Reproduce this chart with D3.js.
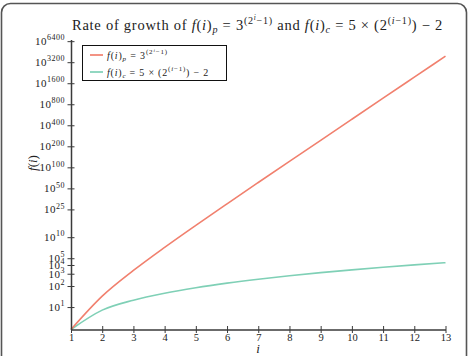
<!DOCTYPE html>
<html><head><meta charset="utf-8">
<script src="https://cdn.jsdelivr.net/npm/d3@7"></script>
<style>
body{margin:0;background:#fff}
svg{display:block}
text{font-family:"Liberation Serif","DejaVu Serif",serif;fill:#222}
</style>
</head><body>
<svg id="chart" width="469" height="356"></svg>
<script>
// ---- data ----
const iValues = [1, 2, 3, 4, 5, 6, 7, 8, 9, 10, 11, 12, 13];
// log10 of f(i)_p = 3^(2^i - 1)  (the values themselves overflow a double)
const fpLog10 = [0.4771, 1.4314, 3.3399, 7.1568, 14.7906, 30.0582, 60.5934,
                 121.664, 243.804, 488.084, 976.645, 1953.77, 3908.01];
// f(i)_c = 5 * 2^(i-1) - 2
const fcValues = [3, 8, 18, 38, 78, 158, 318, 638, 1278, 2558, 5118, 10238, 20478];
const yTickExponents = [1, 2, 3, 4, 5, 10, 25, 50, 100, 200, 400, 800, 1600, 3200, 6400];
const xTickLabels = ["1","2","3","4","5","6","7","8","9","10","11","12","13"];
const seriesColors = ["#f1806e", "#7fd0b6"];

// ---- layout ----
const svg = d3.select("#chart");
const X0 = 71, X1 = 445.5, Y0 = 329.5, Y1 = 39.5;
const axisColor = "#3a3a3a";

// frame
svg.append("rect").attr("x", 1.5).attr("y", 3.5).attr("width", 465).attr("height", 372)
  .attr("rx", 9).attr("fill", "none").attr("stroke", "#555").attr("stroke-width", 1.6);

const x = d3.scaleLinear().domain([1, 13]).range([X0, X1]);
// y: log scale on the exponent log10(f)  => log-log axis
const y = d3.scaleLog().domain([Math.log10(3), Math.pow(10, 3.83)]).range([Y0, Y1]);

// rich text helper
function rich(sel, segs, F) {
  const shift = {0: 0, 1: 0.42 * F, 2: 0.68 * F, "-1": -0.22 * F};
  const size = {0: F, 1: 0.7 * F, 2: 0.5 * F, "-1": 0.7 * F};
  let cur = 0, n = 0;
  segs.forEach(([t, lvl, it]) => {
    const tgt = shift[lvl];
    sel.append("tspan").attr("dy", (cur - tgt).toFixed(2))
      .attr("font-size", size[lvl])
      .attr("font-style", it ? "italic" : "normal")
      .text(t);
    cur = tgt; n += t.length;
  });
  return n;
}
// stretch a text to a target width with letter spacing
function fit(sel, n, target) {
  const w = sel.node().getComputedTextLength();
  const ls = (target - w) / n;
  sel.attr("letter-spacing", ls.toFixed(3));
}

// curves
const fpData = iValues.map((v, k) => [v, fpLog10[k]]);
const fcData = iValues.map((v, k) => [v, Math.log10(fcValues[k])]);
const line = d3.line().x(d => x(d[0])).y(d => y(d[1])).curve(d3.curveMonotoneX);
svg.append("path").datum(fcData).attr("d", line).attr("fill", "none")
  .attr("stroke", seriesColors[1]).attr("stroke-width", 1.6);
svg.append("path").datum(fpData).attr("d", line).attr("fill", "none")
  .attr("stroke", seriesColors[0]).attr("stroke-width", 1.6);

// y axis
const gy = svg.append("g").attr("transform", `translate(${X0},0)`)
  .call(d3.axisLeft(y).tickValues(yTickExponents).tickFormat(() => "").tickSizeOuter(0));
gy.select(".domain").attr("stroke", axisColor).attr("stroke-width", 1.5);
gy.selectAll(".tick line").attr("x1", -3.5).attr("x2", 3.5).attr("stroke", axisColor).attr("stroke-width", 1);
gy.selectAll(".tick text").remove();
gy.selectAll(".tick").each(function(d) {
  const t = d3.select(this).append("text").attr("x", -6).attr("dy", "0.32em")
    .attr("text-anchor", "end").attr("font-size", 11).attr("letter-spacing", 0.5);
  t.append("tspan").text("10");
  t.append("tspan").attr("font-size", 8).attr("dy", -4.8).text(String(d));
});

// x axis
const gx = svg.append("g").attr("transform", `translate(0,${Y0})`)
  .call(d3.axisBottom(x).tickValues(iValues).tickFormat((d, k) => xTickLabels[k]).tickSizeOuter(0));
gx.select(".domain").attr("stroke", axisColor).attr("stroke-width", 1.5);
gx.selectAll(".tick line").attr("y1", -3.5).attr("y2", 3.5).attr("stroke", axisColor).attr("stroke-width", 1);
gx.selectAll(".tick text").attr("y", 4.5).attr("dy", "0.71em").attr("font-size", 10.5)
  .attr("font-family", "Liberation Serif, serif").attr("fill", "#222");

// axis labels
svg.append("text").attr("x", 258).attr("y", 353).attr("text-anchor", "middle")
  .attr("font-size", 13).attr("font-style", "italic").text("i");
svg.append("text").attr("transform", "translate(37,163) rotate(-90)").attr("text-anchor", "middle")
  .attr("font-size", 13)
  .call(t => rich(t, [["f", 0, 1], ["(", 0, 0], ["i", 0, 1], [")", 0, 0]], 13));

// title
const title = svg.append("text").attr("x", 72).attr("y", 30).attr("text-anchor", "start");
const tn = rich(title, [
  ["Rate of growth of ", 0, 0], ["f", 0, 1], ["(", 0, 0], ["i", 0, 1], [")", 0, 0], ["p", -1, 1],
  [" = 3", 0, 0], ["(2", 1, 0], ["i", 2, 1], ["−1)", 1, 0],
  [" and ", 0, 0], ["f", 0, 1], ["(", 0, 0], ["i", 0, 1], [")", 0, 0], ["c", -1, 1],
  [" = 5 × (2", 0, 0], ["(", 1, 0], ["i", 1, 1], ["−1)", 1, 0], [") − 2", 0, 0]
], 14.5);
fit(title, tn, 371);

// legend
const lg = svg.append("g");
lg.append("rect").attr("x", 82.5).attr("y", 45.5).attr("width", 144).attr("height", 35)
  .attr("fill", "#fff").attr("stroke", "#111").attr("stroke-width", 1);
const legendSegs = [
  [["f", 0, 1], ["(", 0, 0], ["i", 0, 1], [")", 0, 0], ["p", -1, 1], [" = 3", 0, 0], ["(2", 1, 0], ["i", 2, 1], ["−1)", 1, 0]],
  [["f", 0, 1], ["(", 0, 0], ["i", 0, 1], [")", 0, 0], ["c", -1, 1], [" = 5 × (2", 0, 0], ["(", 1, 0], ["i", 1, 1], ["−1)", 1, 0], [") − 2", 0, 0]]
];
const legendWidths = [61, 102];
[55, 72].forEach((ly, k) => {
  lg.append("line").attr("x1", 90).attr("x2", 103).attr("y1", ly).attr("y2", ly)
    .attr("stroke", seriesColors[k]).attr("stroke-width", 1.7);
  const t = lg.append("text").attr("x", 107).attr("y", ly + 3.5).attr("fill", "#333");
  const n = rich(t, legendSegs[k], 10);
  fit(t, n, legendWidths[k]);
});
</script>
</body></html>
